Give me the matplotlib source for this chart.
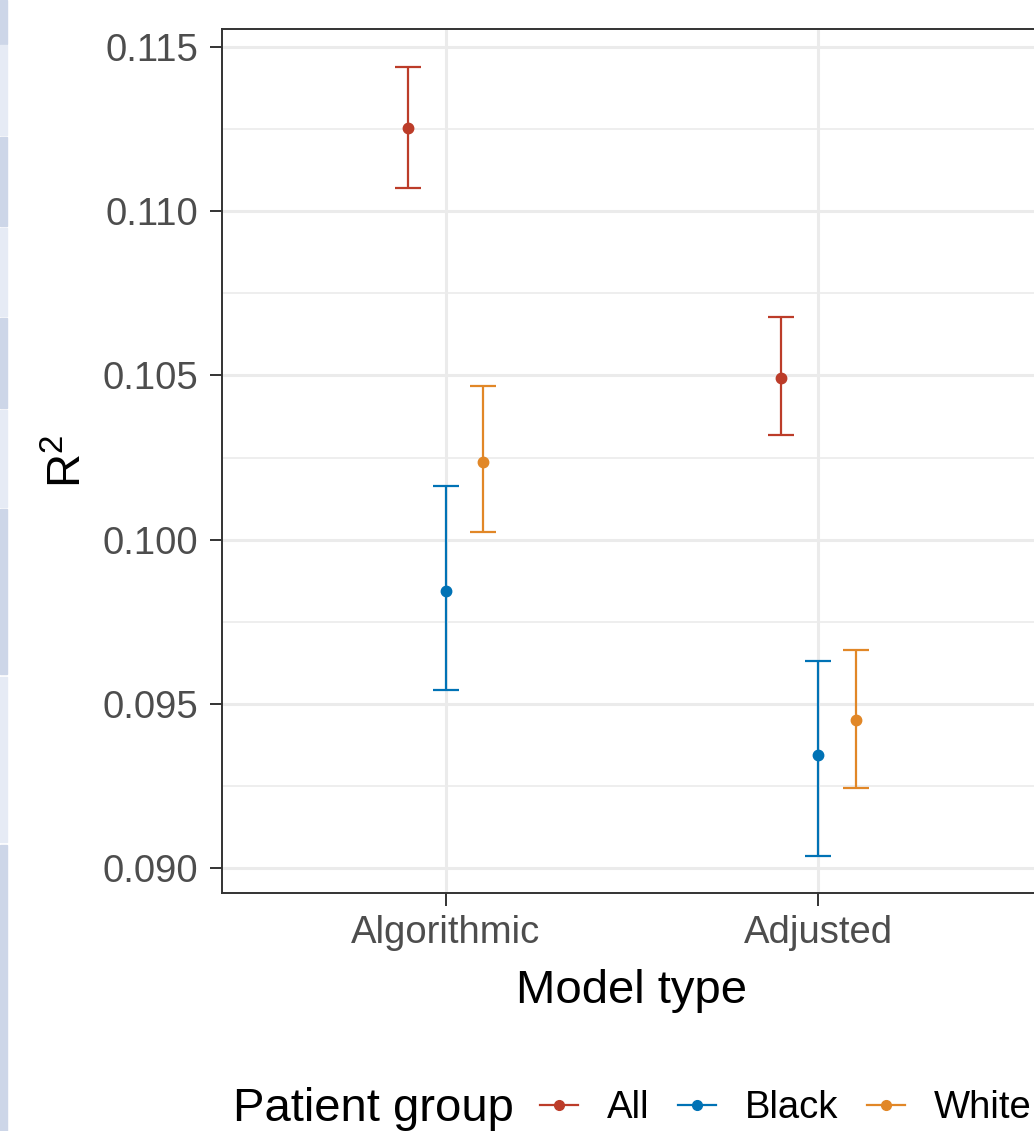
import numpy as np
import matplotlib
matplotlib.use("Agg")
import matplotlib.pyplot as plt
from matplotlib.lines import Line2D
from matplotlib.patches import Rectangle

plt.rcParams['font.family'] = ['Liberation Sans', 'DejaVu Sans']
plt.rcParams['mathtext.fontset'] = 'custom'
plt.rcParams['mathtext.rm'] = 'Liberation Sans'
plt.rcParams['mathtext.it'] = 'Liberation Sans'

# data
model_types = ["Algorithmic", "Adjusted"]
groups = ["All", "Black", "White"]
colors = ["#BC3C29", "#0072B5", "#E18727"]

r2_mid = {
    "All":   [0.11254, 0.10493],
    "Black": [0.09844, 0.09345],
    "White": [0.10237, 0.09452],
}
r2_low = {
    "All":   [0.11072, 0.10319],
    "Black": [0.09543, 0.09038],
    "White": [0.10024, 0.09245],
}
r2_high = {
    "All":   [0.11440, 0.10679],
    "Black": [0.10164, 0.09631],
    "White": [0.10469, 0.09665],
}
y_ticks = [0.090, 0.095, 0.100, 0.105, 0.110, 0.115]

W, H = 1034, 1131
fig = plt.figure(figsize=(W / 100, H / 100), dpi=100)
fig.patch.set_facecolor("white")

# page strip on the left edge
strip = [(0, 44, "#CDD6E8"), (45, 135, "#E6EBF5"), (137, 226, "#CDD6E8"),
         (228, 316, "#E6EBF5"), (318, 408, "#CDD6E8"), (410, 507, "#E6EBF5"),
         (509, 674, "#CDD6E8"), (677, 842, "#E6EBF5"), (845, 1131, "#CDD6E8")]
for y0, y1, c in strip:
    fig.patches.append(Rectangle((0, 1 - y1 / H), 7 / W, (y1 - y0) / H,
                                 transform=fig.transFigure, color=c, zorder=0))

# panel runs a few pixels past the right edge of the picture
ax = fig.add_axes([222 / W, 1 - 893 / H, 820 / W, 864 / H])
ax.set_facecolor("white")

x = np.arange(1, len(model_types) + 1)
offsets = [-0.1, 0.0, 0.1]
for g, c, off in zip(groups, colors, offsets):
    mid = np.array(r2_mid[g])
    lo = mid - np.array(r2_low[g])
    hi = np.array(r2_high[g]) - mid
    ax.errorbar(x + off, mid, yerr=[lo, hi], fmt='o', color=c, ms=7.5,
                elinewidth=1.6, capsize=9.5, capthick=1.6, zorder=3)

ax.set_xlim(0.4, 2.6)
ax.set_ylim(0.08924, 0.11555)
ax.set_xticks(x)
ax.set_xticklabels(model_types)
ax.set_yticks(y_ticks)
ax.set_yticklabels([f"{v:.3f}" for v in y_ticks])
ax.set_yticks(np.arange(0.0925, 0.1151, 0.005), minor=True)

ax.grid(which='major', color="#EBEBEB", lw=2.2, zorder=0)
ax.grid(which='minor', axis='y', color="#EBEBEB", lw=1.2, zorder=0)
ax.set_axisbelow(True)
ax.tick_params(which='minor', length=0)
ax.tick_params(which='major', length=9, width=1.4, color="#333333",
               labelcolor="#4D4D4D", labelsize=27.5)
ax.tick_params(axis='y', pad=8)
ax.tick_params(axis='x', pad=7)
for s in ax.spines.values():
    s.set_color("#333333")
    s.set_linewidth(1.4)

ax.set_xlabel("Model type", fontsize=34, labelpad=13)
ax.set_ylabel("R$^2$", fontsize=34, labelpad=8)

# legend along the bottom
fig.text(233 / W, 1 - 1121 / H, "Patient group", fontsize=34,
         ha='left', va='baseline')
handles = [Line2D([], [], color=c, marker='o', ms=7, lw=1.6) for c in colors]
fig.legend(handles, groups, loc='center left',
           bbox_to_anchor=(540 / W, 1 - 1108 / H), ncol=3, frameon=False,
           fontsize=27.5, handlelength=1.0, handletextpad=0.75,
           columnspacing=0.75, borderaxespad=0, borderpad=0)

fig.savefig("out.png", dpi=100)
